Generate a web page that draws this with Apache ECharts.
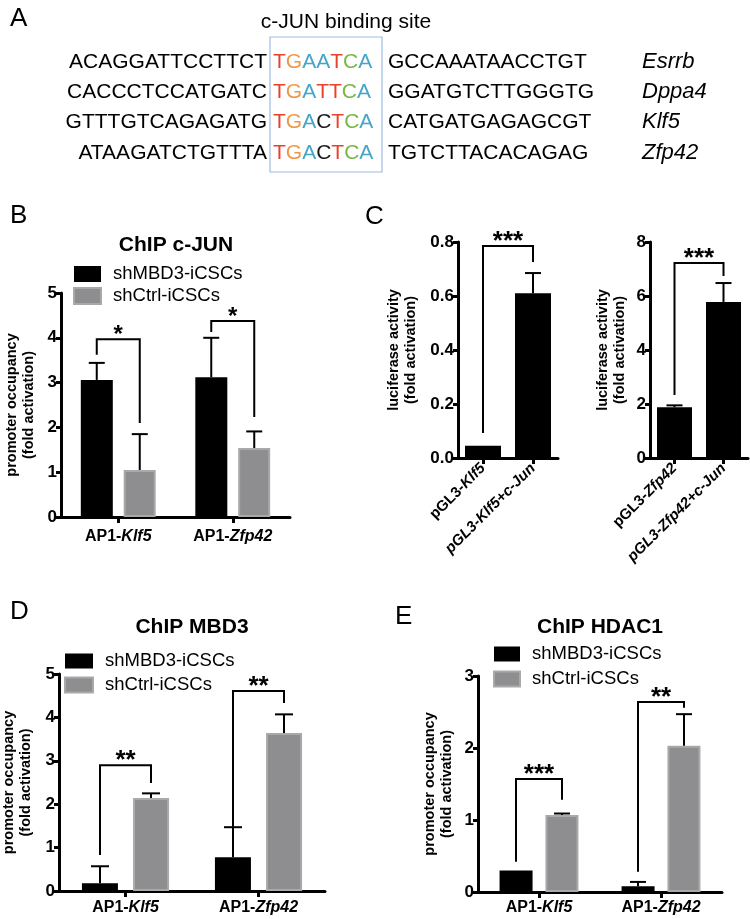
<!DOCTYPE html>
<html><head><meta charset="utf-8">
<script src="https://cdn.jsdelivr.net/npm/echarts/dist/echarts.min.js"></script>
<style>html,body{margin:0;padding:0;background:#fff}#c{width:750px;height:919px}</style>
</head><body><div id="c"></div>
<script>
// ---------------- data ----------------
const seqLeft  = ['ACAGGATTCCTTCT','CACCCTCCATGATC','GTTTGTCAGAGATG','ATAAGATCTGTTTA'];
const seqMotif = ['TGAATCA','TGATTCA','TGACTCA','TGACTCA'];
const seqRight = ['GCCAAATAACCTGT','GGATGTCTTGGGTG','CATGATGAGAGCGT','TGTCTTACACAGAG'];
const seqGenes = ['Esrrb','Dppa4','Klf5','Zfp42'];
const motifTitle = 'c-JUN binding site';

const groups = ['shMBD3-iCSCs','shCtrl-iCSCs'];
const chipCats = ['AP1-Klf5','AP1-Zfp42'];
const chipGenes = ['Klf5','Zfp42'];

// B: ChIP c-JUN
const bTicks = [0,1,2,3,4,5];
const bBlack = [3.06,3.12], bBlackSD = [0.38,0.88];
const bGray  = [1.05,1.54], bGraySD  = [0.80,0.37];
const bBrackets = [[0,3.62,3.97,2.10],[1,4.13,4.375,2.23]];
const bStars = ['*','*'];

// C: luciferase
const c1Cats = ['pGL3-Klf5','pGL3-Klf5+c-Jun'];
const c1Ticks = [0,0.2,0.4,0.6,0.8];
const c1Vals = [0.045,0.61], c1SD = [0,0.075];
const c1Brackets = [[0,0.093,0.785,0.726]];
const c1Stars = ['***'];
const c2Cats = ['pGL3-Zfp42','pGL3-Zfp42+c-Jun'];
const c2Ticks = [0,2,4,6,8];
const c2Vals = [1.88,5.78], c2SD = [0.07,0.70];
const c2Brackets = [[0,2.33,7.22,6.74]];
const c2Stars = ['***'];

// D: ChIP MBD3
const dTicks = [0,1,2,3,4,5];
const dBlack = [0.18,0.78], dBlackSD = [0.39,0.69];
const dGray  = [2.14,3.64], dGraySD  = [0.11,0.43];
const dBrackets = [[0,0.83,2.90,2.49],[1,0.83,4.61,4.33]];
const dStars = ['**','**'];

// E: ChIP HDAC1
const eTicks = [0,1,2,3];
const eBlack = [0.30,0.08], eBlackSD = [0,0.06];
const eGray  = [1.07,2.03], eGraySD  = [0.02,0.44];
const eBrackets = [[0,0.42,1.57,1.28],[1,0.28,2.64,2.56]];
const eStars = ['***','**'];

const yName1 = 'promoter occupancy\n(fold activation)';
const yName2 = 'luciferase activity\n(fold activation)';

// ---------------- styles ----------------
const FONT = '"Liberation Sans", Arial, Helvetica, sans-serif';
const BLACK = '#000000';
const GRAY = '#8e8e90', GRAY_EDGE = '#a9a9a9';
const motifColor = {T:'#e8412c', G:'#f0984a', A:'#45a6c8', C:'#7ab648'};

const chart = echarts.init(document.getElementById('c'), null, {renderer:'canvas'});

const grids = [
  {left:61,  top:293, width:229, height:224},  // B
  {left:458, top:242, width:100, height:216},  // C1
  {left:650, top:242, width:98,  height:216},  // C2
  {left:59,  top:674, width:266, height:217},  // D
  {left:478, top:676, width:244, height:216}   // E
].map(g => Object.assign({containLabel:false, outerBoundsMode:'none', show:false}, g));

function yAx(gi, ticks, name, gap, fmt){
  return {type:'value', gridIndex:gi, min:ticks[0], max:ticks[ticks.length-1], interval:ticks[1]-ticks[0],
    axisLine:{show:true, lineStyle:{color:BLACK, width:3}},
    axisTick:{show:true, length:5, lineStyle:{color:BLACK, width:3}},
    axisLabel:{color:BLACK, fontFamily:FONT, fontWeight:'bold', fontSize:17, margin:4, formatter:fmt},
    splitLine:{show:false},
    name:name, nameLocation:'middle', nameGap:gap, nameRotate:90,
    nameTextStyle:{fontFamily:FONT, fontWeight:'bold', fontSize:14.5, color:BLACK, lineHeight:17}
  };
}
function richFmt(genes, allItalicSuffix){
  return function(v){
    for (const g of genes){
      const k = v.indexOf(g);
      if (k >= 0){
        const pre = v.slice(0,k), post = v.slice(k+g.length);
        if (allItalicSuffix && post) return '{i|' + v + '}';
        return (pre ? '{b|' + pre + '}' : '') + '{i|' + g + '}' + (post ? '{b|' + post + '}' : '');
      }
    }
    return v;
  };
}
function xAx(gi, cats, fmt, rotate, margin, fs){
  return {type:'category', gridIndex:gi, data:cats,
    axisLine:{show:true, lineStyle:{color:BLACK, width:3}},
    axisTick:{show:true, alignWithLabel:true, length:6, lineStyle:{color:BLACK, width:3}},
    axisLabel:{interval:0, rotate:rotate, margin:margin, color:BLACK, fontFamily:FONT, fontWeight:'bold', fontSize:fs, formatter:fmt,
      rich:{b:{fontFamily:FONT, fontWeight:'bold', fontSize:fs, color:BLACK},
            i:{fontFamily:FONT, fontWeight:'bold', fontStyle:'italic', fontSize:fs, color:BLACK}}},
    splitLine:{show:false}
  };
}

function barS(gi, name, data, width, gap, gray){
  return {type:'bar', name:name, xAxisIndex:gi, yAxisIndex:gi, data:data, barWidth:width, barGap:gap, silent:true, z:2,
    itemStyle: gray ? {color:GRAY, borderColor:GRAY_EDGE, borderWidth:2} : {color:BLACK}};
}
function errS(gi, means, sds, offset, cap){
  return {type:'custom', xAxisIndex:gi, yAxisIndex:gi, silent:true, clip:false, z:3,
    data: means.map((m,i) => [i, m, m + sds[i], sds[i]]),
    encode:{x:0, y:[1,2]},
    renderItem:function(params, api){
      if (api.value(3) <= 0) return null;
      const p0 = api.coord([api.value(0), api.value(1)]);
      const p1 = api.coord([api.value(0), api.value(2)]);
      const x = p0[0] + offset;
      return {type:'group', children:[
        {type:'line', shape:{x1:x, y1:p0[1], x2:x, y2:p1[1]}, style:{stroke:BLACK, lineWidth:2}},
        {type:'line', shape:{x1:x-cap/2, y1:p1[1], x2:x+cap/2, y2:p1[1]}, style:{stroke:BLACK, lineWidth:2}}
      ]};
    }};
}
function brS(gi, brackets, labels, offL, offR, span, starSize){
  return {type:'custom', xAxisIndex:gi, yAxisIndex:gi, silent:true, clip:false, z:4,
    data: brackets, encode:{x:0, y:[1,2,3]},
    renderItem:function(params, api){
      const c = api.value(0);
      const pl = api.coord([c, api.value(1)]);
      const pt = api.coord([c, api.value(2)]);
      const pr = api.coord([c + span, api.value(3)]);
      const xl = pl[0] + offL, xr = pr[0] + offR, yt = pt[1];
      return {type:'group', children:[
        {type:'polyline', shape:{points:[[xl,pl[1]],[xl,yt],[xr,yt],[xr,pr[1]]]}, style:{stroke:BLACK, lineWidth:2, fill:null}},
        {type:'text', x:(xl+xr)/2, y:yt-4, style:{text:labels[params.dataIndex], fill:BLACK,
          font:'bold ' + starSize + 'px ' + FONT, align:'center', verticalAlign:'middle', textAlign:'center', textVerticalAlign:'middle'}}
      ]};
    }};
}

// ---------------- graphics (panel A, letters, titles) ----------------
const G = [];
function txt(x, y, text, font, align, extra){
  G.push(Object.assign({type:'text', x:x, y:y, silent:true, style:Object.assign({text:text, fill:BLACK, font:font,
    align:align||'left', textAlign:align||'left', verticalAlign:'middle', textVerticalAlign:'middle'}, (extra||{}))}));
}
const rowY = [62, 92, 122, 153];
txt(10, 19, 'A', '26px ' + FONT);
txt(346, 22, motifTitle, '21px ' + FONT, 'center');
G.push({type:'rect', silent:true, shape:{x:270, y:37, width:112, height:135}, style:{fill:null, stroke:'#9dbde0', lineWidth:1.2}});
const rich = {k:{fill:'#1a1a1a', font:'21px ' + FONT}};
Object.keys(motifColor).forEach(n => rich[n] = {fill:motifColor[n], font:'21px ' + FONT});
seqLeft.forEach((s,i) => {
  txt(267, rowY[i], s, '21px ' + FONT, 'right');
  const m = seqMotif[i].split('').map((ch,j) => '{' + ((j===3 && ch==='C') ? 'k' : ch) + '|' + ch + '}').join('');
  txt(273, rowY[i], m, '21px ' + FONT, 'left', {rich:rich});
  txt(388, rowY[i], seqRight[i], '21px ' + FONT, 'left');
  txt(642, rowY[i], seqGenes[i], 'italic 22px ' + FONT, 'left');
});
txt(10, 216, 'B', '26px ' + FONT);
txt(365, 217, 'C', '26px ' + FONT);
txt(10, 612, 'D', '26px ' + FONT);
txt(395, 617, 'E', '26px ' + FONT);
txt(176, 245, 'ChIP c-JUN', 'bold 21px ' + FONT, 'center');
txt(192, 627, 'ChIP MBD3', 'bold 21px ' + FONT, 'center');
txt(600, 627, 'ChIP HDAC1', 'bold 21px ' + FONT, 'center');

function leg(left, top, gap, w, h){
  return {left:left, top:top, orient:'vertical', padding:0, itemWidth:w, itemHeight:h, itemGap:gap, icon:'rect',
    data:groups, selectedMode:false,
    textStyle:{fontFamily:FONT, fontSize:18.5, color:BLACK, lineHeight:20, padding:[0,0,0,7]}};
}

const chipFmt = richFmt(chipGenes, false);
const f1 = v => Number(v).toFixed(1);

const option = {
  animation:false,
  backgroundColor:'#ffffff',
  grid: grids,
  legend:[leg(73,264,2,27,16), leg(64,651,4,28,15), leg(493,644,5,26,15)],
  xAxis:[
    xAx(0, chipCats, chipFmt, 0, 12, 16),
    xAx(1, c1Cats, richFmt(['Klf5'], true), 45, 8, 15),
    xAx(2, c2Cats, richFmt(['Zfp42'], true), 45, 8, 15),
    xAx(3, chipCats, chipFmt, 0, 9, 16),
    xAx(4, chipCats, chipFmt, 0, 8, 16)
  ],
  yAxis:[
    yAx(0, bTicks, yName1, 24),
    yAx(1, c1Ticks, yName2, 39, f1),
    yAx(2, c2Ticks, yName2, 22),
    yAx(3, dTicks, yName1, 25),
    yAx(4, eTicks, yName1, 23)
  ],
  series:[
    barS(0, groups[0], bBlack, 32, '34%', false),
    barS(0, groups[1], bGray, 32, '34%', true),
    errS(0, bBlack, bBlackSD, -21.5, 16),
    errS(0, bGray, bGraySD, 21.5, 16),
    brS(0, bBrackets, bStars, -21.5, 21.5, 0, 24),

    barS(1, 'c1', c1Vals, 36, '0%', false),
    errS(1, c1Vals, c1SD, 0, 16),
    brS(1, c1Brackets, c1Stars, 0, 0, 1, 26),
    barS(2, 'c2', c2Vals, 35, '0%', false),
    errS(2, c2Vals, c2SD, 0, 16),
    brS(2, c2Brackets, c2Stars, 0, 0, 1, 26),

    barS(3, groups[0], dBlack, 36, '42%', false),
    barS(3, groups[1], dGray, 36, '42%', true),
    errS(3, dBlack, dBlackSD, -25.5, 18),
    errS(3, dGray, dGraySD, 25.5, 18),
    brS(3, dBrackets, dStars, -25.5, 25.5, 0, 26),

    barS(4, groups[0], eBlack, 33, '39%', false),
    barS(4, groups[1], eGray, 33, '39%', true),
    errS(4, eBlack, eBlackSD, -23, 16),
    errS(4, eGray, eGraySD, 23, 16),
    brS(4, eBrackets, eStars, -23, 23, 0, 26)
  ],
  graphic: G
};
chart.setOption(option);
</script></body></html>
